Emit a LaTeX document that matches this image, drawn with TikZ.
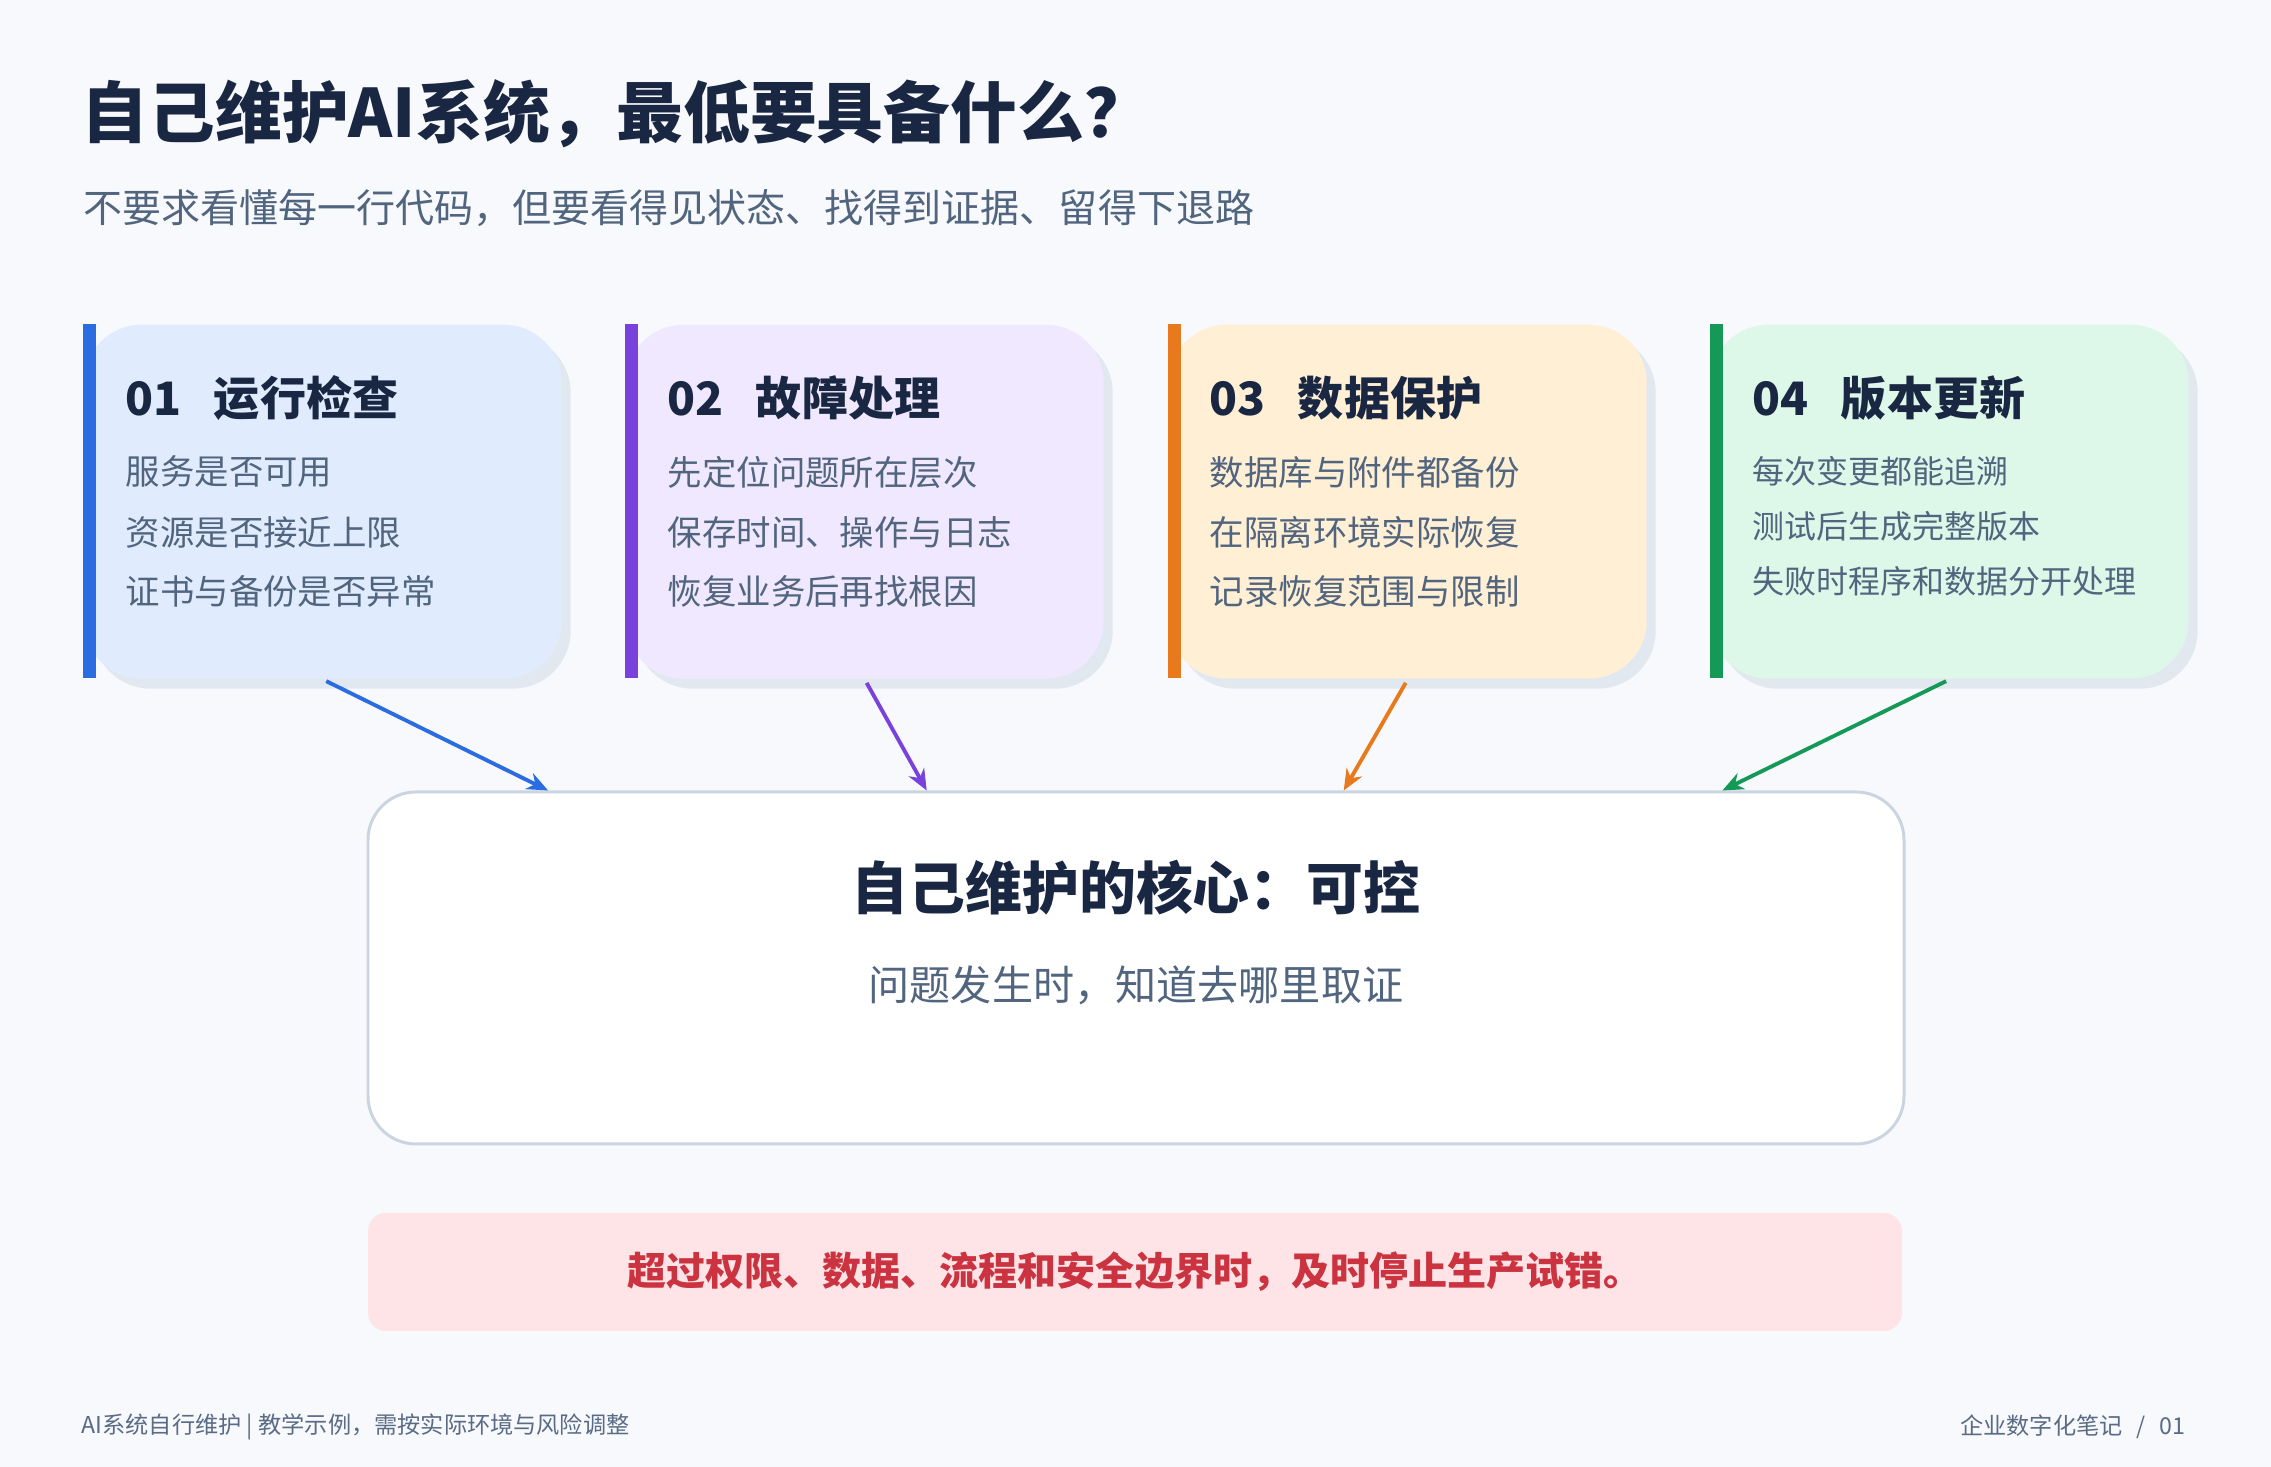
\documentclass[tikz,border=0pt]{standalone}
\usepackage{fontspec}
\setmainfont{Noto Sans CJK SC}
\usetikzlibrary{arrows.meta, calc, positioning, shadows}
\definecolor{pagebg}{HTML}{F7F9FC}
\definecolor{ink}{HTML}{1A2742}
\definecolor{slate}{HTML}{52657F}
\definecolor{footgray}{HTML}{5A6B85}
\definecolor{cardshade}{HTML}{E2E8F0}
\definecolor{blueface}{HTML}{E0ECFE}
\definecolor{bluebar}{HTML}{2B6CE0}
\definecolor{violetface}{HTML}{F0E8FE}
\definecolor{violetbar}{HTML}{7A42DC}
\definecolor{amberface}{HTML}{FFEFD5}
\definecolor{amberbar}{HTML}{E8791C}
\definecolor{mintface}{HTML}{DDF7E8}
\definecolor{mintbar}{HTML}{159957}
\definecolor{coreline}{HTML}{CBD5E1}
\definecolor{warnface}{HTML}{FEE4E6}
\definecolor{warnred}{HTML}{CC3340}

\begin{document}
\begin{tikzpicture}[>={Stealth[length=6pt, width=5pt]},
  card/.style={anchor=north west, minimum width=4.78cm, minimum height=3.54cm,
    inner sep=0pt, rounded corners=0.58cm,
    drop shadow={shadow xshift=0.09cm, shadow yshift=-0.10cm, fill=cardshade, opacity=1}},
  cardhead/.style={anchor=west, inner sep=0pt, text=ink,
    font=\fontsize{13.1}{15}\selectfont\bfseries},
  cardline/.style={anchor=west, inner sep=0pt, text=slate,
    font=\fontsize{9.8}{12}\selectfont},
  feed/.style={->, line width=1.1pt, shorten <=0.04cm}]

% Background
\fill[pagebg] (0,0) rectangle (22.71,14.67);

% Title
\node[anchor=west, inner sep=0pt, text=ink, font=\fontsize{19}{23}\selectfont\bfseries]
  (title) at (0.81,13.53) {自己维护AI系统，最低要具备什么？};
\node[anchor=west, inner sep=0pt, text=slate, font=\fontsize{11.1}{14}\selectfont]
  (subtitle) at (0.83,12.59) {不要求看懂每一行代码，但要看得见状态、找得到证据、留得下退路};

% ============================================================
% Four cards
% ============================================================
% 01 -- blue
\node[card, fill=blueface] (c1) at (0.83,11.43) {};
\fill[bluebar] (c1.north west) rectangle ++(0.13,-3.54);
\node[cardhead] (c1h) at (1.25,10.69) {01\hspace{0.7em}运行检查};
\node[cardline] (c1a) at (1.25,9.95) {服务是否可用};
\node[cardline] (c1b) at (1.25,9.35) {资源是否接近上限};
\node[cardline] (c1c) at (1.25,8.76) {证书与备份是否异常};

% 02 -- violet
\node[card, fill=violetface] (c2) at (6.25,11.43) {};
\fill[violetbar] (c2.north west) rectangle ++(0.13,-3.54);
\node[cardhead] (c2h) at (6.67,10.69) {02\hspace{0.7em}故障处理};
\node[cardline] (c2a) at (6.67,9.95) {先定位问题所在层次};
\node[cardline] (c2b) at (6.67,9.35) {保存时间、操作与日志};
\node[cardline] (c2c) at (6.67,8.76) {恢复业务后再找根因};

% 03 -- amber
\node[card, fill=amberface] (c3) at (11.68,11.43) {};
\fill[amberbar] (c3.north west) rectangle ++(0.13,-3.54);
\node[cardhead] (c3h) at (12.09,10.69) {03\hspace{0.7em}数据保护};
\node[cardline] (c3a) at (12.09,9.95) {数据库与附件都备份};
\node[cardline] (c3b) at (12.09,9.35) {在隔离环境实际恢复};
\node[cardline] (c3c) at (12.09,8.76) {记录恢复范围与限制};

% 04 -- mint (body set a little smaller, longest line)
\node[card, fill=mintface] (c4) at (17.10,11.43) {};
\fill[mintbar] (c4.north west) rectangle ++(0.13,-3.54);
\node[cardhead] (c4h) at (17.52,10.69) {04\hspace{0.7em}版本更新};
\node[cardline, font=\fontsize{9.1}{11}\selectfont] (c4a) at (17.52,9.96) {每次变更都能追溯};
\node[cardline, font=\fontsize{9.1}{11}\selectfont] (c4b) at (17.52,9.41) {测试后生成完整版本};
\node[cardline, font=\fontsize{9.1}{11}\selectfont] (c4c) at (17.52,8.86) {失败时程序和数据分开处理};

% ============================================================
% Core box
% ============================================================
\node[draw=coreline, fill=white, line width=0.85pt, rounded corners=0.48cm,
  minimum width=15.36cm, minimum height=3.52cm, inner sep=0pt] (core) at (11.36,4.99) {};
\node[inner sep=0pt, text=ink, font=\fontsize{16.2}{19}\selectfont\bfseries]
  (coretitle) at (11.36,5.79) {自己维护的核心：可控};
\node[inner sep=0pt, text=slate, font=\fontsize{11.7}{14}\selectfont]
  (coresub) at (11.36,4.82) {问题发生时，知道去哪里取证};

% Arrow targets on the top edge of the core box
\coordinate (t1) at ($(core.north west)!0.118!(core.north east)$);
\coordinate (t2) at ($(core.north west)!0.364!(core.north east)$);
\coordinate (t3) at ($(core.north west)!0.635!(core.north east)$);
\coordinate (t4) at ($(core.north west)!0.881!(core.north east)$);

\draw[feed, bluebar] (c1.south) -- (t1);
\draw[feed, violetbar] (c2.south) -- (t2);
\draw[feed, amberbar] (c3.south) -- (t3);
\draw[feed, mintbar] (c4.south) -- (t4);

% Warning strip
\node[fill=warnface, rounded corners=0.18cm, minimum width=15.34cm, minimum height=1.18cm,
  inner sep=0pt, text=warnred, font=\fontsize{11.1}{14}\selectfont\bfseries]
  (warn) at (11.35,1.95) {超过权限、数据、流程和安全边界时，及时停止生产试错。};

% Footer
\node[anchor=west, inner sep=0pt, text=footgray, font=\fontsize{6.6}{8}\selectfont]
  (footl) at (0.81,0.40) {AI系统自行维护 | 教学示例，需按实际环境与风险调整};
\node[anchor=east, inner sep=0pt, text=footgray, font=\fontsize{6.6}{8}\selectfont]
  (footr) at (21.86,0.40) {企业数字化笔记\hspace{0.6em}/\hspace{0.6em}01};

\end{tikzpicture}
\end{document}
